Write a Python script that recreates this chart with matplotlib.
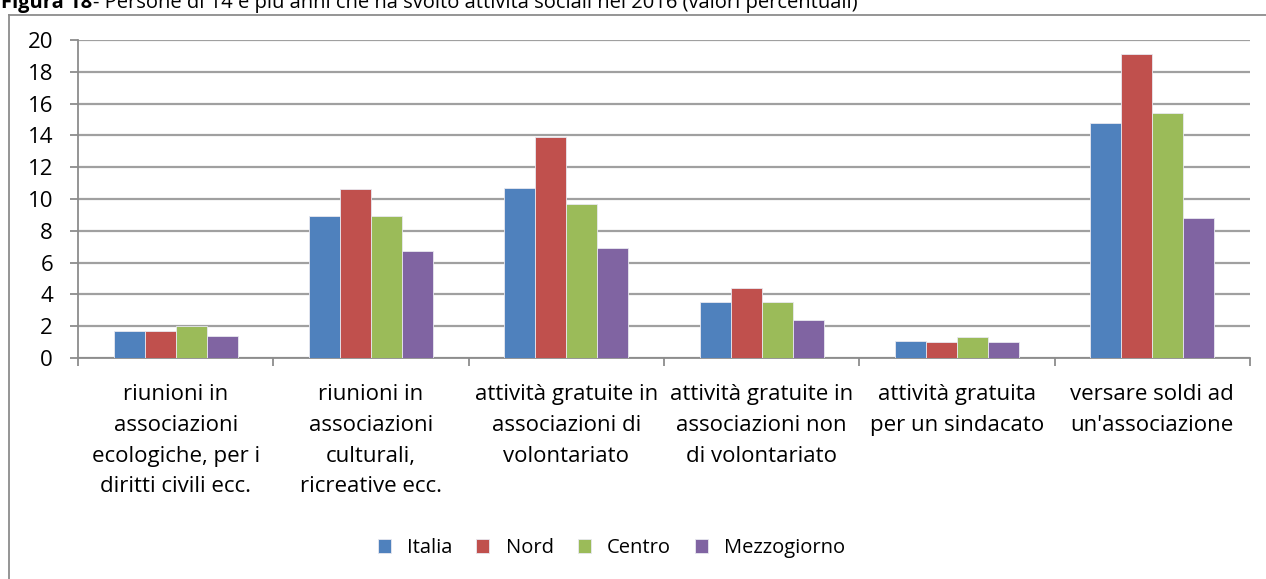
import matplotlib.pyplot as plt
from matplotlib.lines import Line2D
import numpy as np

# categories and series (valori percentuali)
categories = ["riunioni in\nassociazioni\necologiche, per i\ndiritti civili ecc.",
              "riunioni in\nassociazioni\nculturali,\nricreative ecc.",
              "attività gratuite in\nassociazioni di\nvolontariato",
              "attività gratuite in\nassociazioni non\ndi volontariato",
              "attività gratuita\nper un sindacato",
              "versare soldi ad\nun'associazione"]
italia = [1.7, 8.9, 10.7, 3.5, 1.1, 14.8]
nord = [1.7, 10.6, 13.9, 4.4, 1.0, 19.1]
centro = [2.0, 8.9, 9.7, 3.5, 1.3, 15.4]
mezzogiorno = [1.4, 6.7, 6.9, 2.4, 1.0, 8.8]
series_names = ["Italia", "Nord", "Centro", "Mezzogiorno"]
colors = ["#4F81BD", "#C0504D", "#9BBB59", "#8064A2"]

plt.rcParams['font.family'] = ['Open Sans', 'DejaVu Sans']
fs = 16

W, H = 1266, 579
fig = plt.figure(figsize=(W / 100, H / 100), dpi=100)
ax = fig.add_axes([78 / W, 1 - 358 / H, (1250 - 78) / W, (358 - 40) / H])

# frame around the chart (left and top only are visible)
grey = "#8c8c8c"
fig.add_artist(Line2D([9 / W, 9 / W], [0, 1 - 15 / H], color=grey, lw=1.3))
fig.add_artist(Line2D([9 / W, 1], [1 - 15 / H, 1 - 15 / H], color=grey, lw=1.3))

# title, cut by the top edge as in the source
fig.text(1 / W, 1 - 8 / H, "Figura 18", fontsize=14.5, fontweight='bold', va='baseline')
fig.text(93 / W, 1 - 8 / H, "- Persone di 14 e più anni che ha svolto attività sociali nel 2016 (valori percentuali)",
         fontsize=14.5, va='baseline')

x = np.arange(len(categories))
bw = 0.159
data = [italia, nord, centro, mezzogiorno]
for i, (vals, name, c) in enumerate(zip(data, series_names, colors)):
  ax.bar(x + (i - 1.5) * bw, vals, bw, color=c, label=name,
         edgecolor='#e8e8f0', linewidth=0.6, zorder=3)

ax.set_xlim(-0.5, len(categories) - 0.5)
ax.set_ylim(0, 20)
ax.set_yticks(range(0, 21, 2))
ax.yaxis.grid(True, color='#a0a0a0', lw=1.6, zorder=0)
ax.set_axisbelow(True)

ax.set_xticks(x)
ax.set_xticklabels(categories, fontsize=fs, linespacing=1.6, va='top')
ax.set_xticks(np.arange(-0.5, len(categories)), minor=True)
ax.tick_params(axis='x', which='major', length=0, pad=19)
ax.tick_params(axis='x', which='minor', length=6, color=grey, width=1.3)
ax.tick_params(axis='y', length=6, color=grey, width=1.3, labelsize=fs, pad=12)

for s in ['top', 'right']:
  ax.spines[s].set_visible(False)
for s in ['left', 'bottom']:
  ax.spines[s].set_color(grey)
  ax.spines[s].set_linewidth(1.3)

fig.legend(loc='center', bbox_to_anchor=(0.483, 1 - 548 / H), ncol=4, frameon=False,
           fontsize=14.5, handlelength=0.65, handleheight=0.65, handletextpad=0.8,
           columnspacing=1.2)

fig.savefig("out.png", dpi=100)
